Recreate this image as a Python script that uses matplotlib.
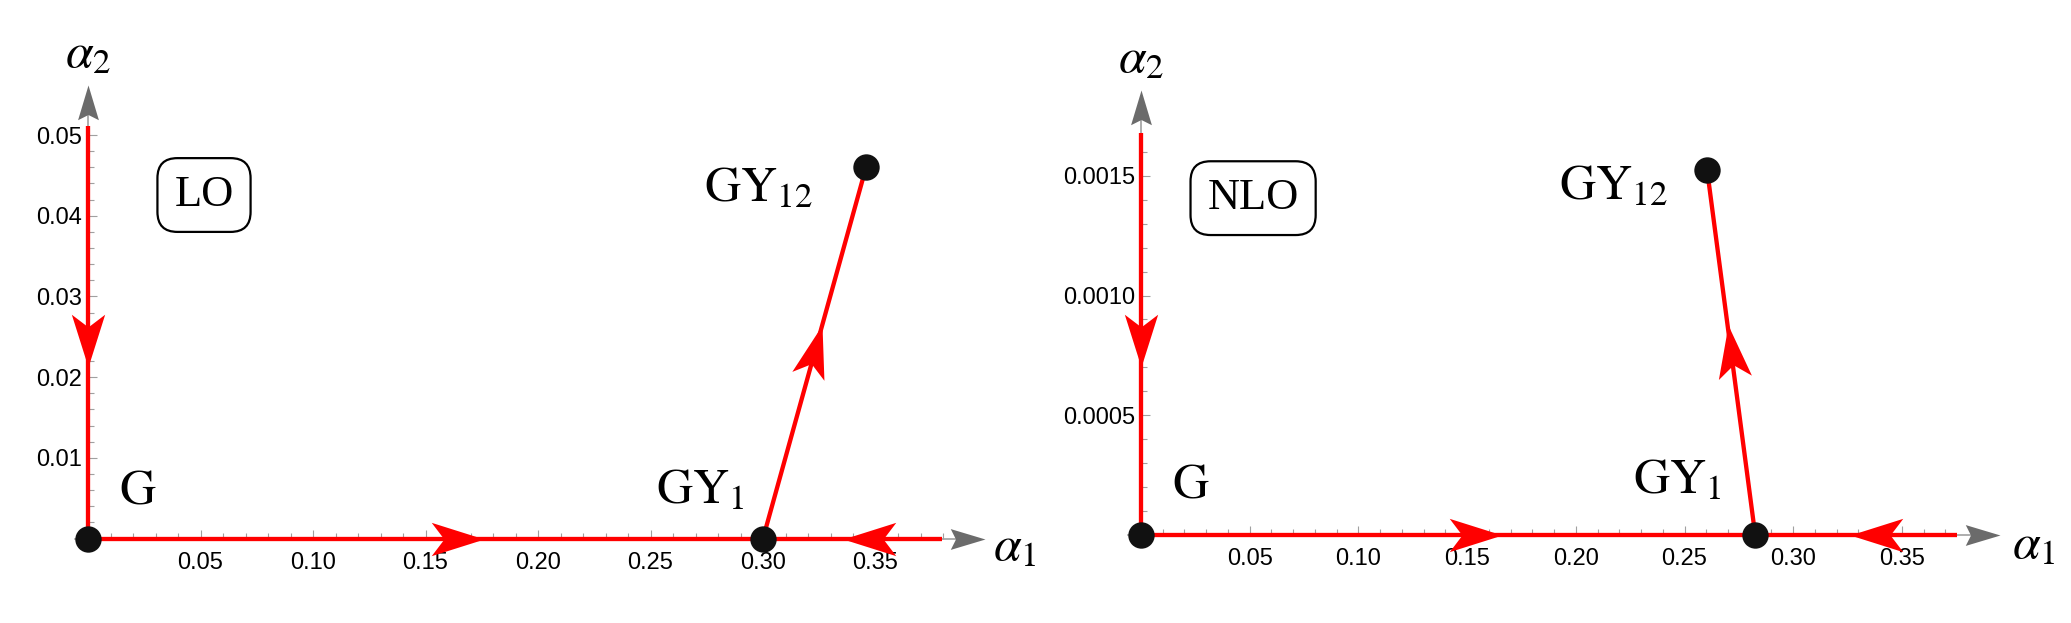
import numpy as np
import matplotlib
matplotlib.use('Agg')
import matplotlib.pyplot as plt
from matplotlib.path import Path

plt.rcParams['mathtext.fontset'] = 'stix'
plt.rcParams['font.family'] = ['Liberation Sans', 'DejaVu Sans']

# ---- LO panel ----
lo_G = (0.0, 0.0)
lo_GY1 = (0.300, 0.0)
lo_GY12 = (0.3458, 0.0460)
lo_a2_top = 0.0511          # red flow line on the alpha2 axis starts here
lo_a1_end = 0.3796          # red flow line on the alpha1 axis ends here
lo_arrow_down = 0.02125     # tip of the arrow on the alpha2 axis
lo_arrow_right = 0.176      # tip of the arrow G -> GY1
lo_arrow_left = 0.3357      # tip of the arrow end -> GY1
lo_arrow_gy = (0.3263, 0.0264)
lo_axis_tip = (0.3987, 0.0562)
lo_xticks = [0.05, 0.10, 0.15, 0.20, 0.25, 0.30, 0.35]
lo_yticks = [0.01, 0.02, 0.03, 0.04, 0.05]

# ---- NLO panel ----
nlo_G = (0.0, 0.0)
nlo_GY1 = (0.2825, 0.0)
nlo_GY12 = (0.2604, 0.001525)
nlo_a2_top = 0.00168
nlo_a1_end = 0.3755
nlo_arrow_down = 0.000702
nlo_arrow_right = 0.166
nlo_arrow_left = 0.326
nlo_arrow_gy = (0.2698, 0.000877)
nlo_axis_tip = (0.3951, 0.00186)
nlo_xticks = [0.05, 0.10, 0.15, 0.20, 0.25, 0.30, 0.35]
nlo_yticks = [0.0005, 0.0010, 0.0015]

RED = '#ff0000'
GRAY = '#a0a0a0'
DARKGRAY = '#6b6b6b'


def head(ax, tip, frm, color=RED, L=38, W=24, notch=0.76, z=4):
    # notched arrow head, tip at data point, pointing along frm -> tip
    p0 = ax.transData.transform(frm)
    p1 = ax.transData.transform(tip)
    ang = np.arctan2(p1[1] - p0[1], p1[0] - p0[0])
    base = np.array([[0, 0], [-L, W / 2], [-notch * L, 0], [-L, -W / 2], [0, 0]])
    c, s = np.cos(ang), np.sin(ang)
    verts = base @ np.array([[c, s], [-s, c]])
    path = Path(verts, [Path.MOVETO, Path.LINETO, Path.LINETO, Path.LINETO, Path.CLOSEPOLY])
    ms = 2 * np.abs(verts).max()
    ax.plot(tip[0], tip[1], marker=path, ms=ms, color=color, mew=0,
            clip_on=False, zorder=z)


def panel(ax, G, GY1, GY12, a2_top, a1_end, a_down, a_right, a_left, a_gy,
          axis_tip, xticks, yticks, yfmt, xminor, yminor, name, box_pos, offs):
    for sp in ['top', 'right']:
        ax.spines[sp].set_visible(False)
    ax.spines['left'].set_position(('data', 0))
    ax.spines['bottom'].set_position(('data', 0))
    ax.spines['left'].set_bounds(-0.02 * axis_tip[1], axis_tip[1] * 0.97)
    ax.spines['bottom'].set_bounds(-0.006, axis_tip[0] * 0.97)
    for sp in ['left', 'bottom']:
        ax.spines[sp].set_color(GRAY)
        ax.spines[sp].set_linewidth(1.2)
        ax.spines[sp].set_zorder(1)

    ax.set_xticks(xticks)
    ax.set_xticklabels(['%.2f' % t for t in xticks])
    ax.set_yticks(yticks)
    ax.set_yticklabels([yfmt % t for t in yticks])
    ax.set_xticks(xminor, minor=True)
    ax.set_yticks(yminor, minor=True)
    ax.tick_params(which='major', direction='in', length=6.5, width=0.8,
                   color=GRAY, labelsize=17)
    ax.tick_params(which='minor', direction='in', length=4, width=0.8, color=GRAY)
    ax.tick_params(axis='x', pad=10)
    ax.tick_params(axis='y', pad=4.3)

    # gray axis arrow heads
    head(ax, (axis_tip[0], 0), (0, 0), color=DARKGRAY, L=25, W=15, notch=0.85, z=2)
    head(ax, (0, axis_tip[1]), (0, 0), color=DARKGRAY, L=25, W=15, notch=0.85, z=2)

    # flow lines
    kw = dict(color=RED, lw=3.1, solid_capstyle='butt', zorder=3, clip_on=False)
    ax.plot([G[0], G[0]], [a2_top, G[1]], **kw)
    ax.plot([G[0], a1_end], [G[1], G[1]], **kw)
    ax.plot([GY1[0], GY12[0]], [GY1[1], GY12[1]], **kw)

    head(ax, (0, a_down), (0, a2_top))
    head(ax, (a_right, 0), (0, 0))
    head(ax, (a_left, 0), (a1_end, 0))
    head(ax, a_gy, GY1)

    # fixed points
    xs = [G[0], GY1[0], GY12[0]]
    ys = [G[1], GY1[1], GY12[1]]
    ax.plot(xs, ys, 'o', color='#111111', ms=19, mew=0, zorder=5, clip_on=False)

    tk = dict(textcoords='offset pixels', fontsize=36, va='baseline')
    ax.annotate(r'$\mathrm{G}$', xy=G, xytext=offs['G'], ha='left', **tk)
    ax.annotate(r'$\mathrm{GY}_{1}$', xy=GY1, xytext=offs['GY1'], ha='right', **tk)
    ax.annotate(r'$\mathrm{GY}_{12}$', xy=GY12, xytext=offs['GY12'], ha='right', **tk)
    ax.annotate(r'$\alpha_2$', xy=(0, axis_tip[1]), xytext=(0, 18), ha='center', **tk)
    ax.annotate(r'$\alpha_1$', xy=(axis_tip[0], 0), xytext=offs['a1'], ha='left', **tk)

    ax.text(box_pos[0], box_pos[1], name, transform=ax.transAxes, ha='center',
            va='center', fontsize=32, family=['Liberation Serif'],
            bbox=dict(boxstyle='round,pad=0.38,rounding_size=0.45', fc='white',
                      ec='black', lw=1.6))


W_PX, H_PX = 2071, 623
fig = plt.figure(figsize=(W_PX / 100, H_PX / 100), dpi=100)


def make_axes(left, right, top, bottom, x0, xs, y0, ys):
    # pixel box of the axes plus pixel position of the origin and px/unit scales
    ax = fig.add_axes([left / W_PX, (H_PX - bottom) / H_PX,
                       (right - left) / W_PX, (bottom - top) / H_PX])
    ax.set_xlim((left - x0) / xs, (right - x0) / xs)
    ax.set_ylim((y0 - bottom) / ys, (y0 - top) / ys)
    return ax


ax1 = make_axes(20, 1040, 30, 600, 88, 2250, 538.5, 8070)
ax2 = make_axes(1060, 2071, 30, 600, 1141, 2174, 534.5, 239000)

panel(ax1, lo_G, lo_GY1, lo_GY12, lo_a2_top, lo_a1_end, lo_arrow_down,
      lo_arrow_right, lo_arrow_left, lo_arrow_gy, lo_axis_tip, lo_xticks,
      lo_yticks, '%.2f', np.arange(0.01, 0.381, 0.01), np.arange(0.002, 0.0501, 0.002),
      'LO', (0.1804, 0.7105),
      {'G': (31, 34.5), 'GY1': (-18, 35.5), 'GY12': (-53, -34), 'a1': (8, -22)})

panel(ax2, nlo_G, nlo_GY1, nlo_GY12, nlo_a2_top, nlo_a1_end, nlo_arrow_down,
      nlo_arrow_right, nlo_arrow_left, nlo_arrow_gy, nlo_axis_tip, nlo_xticks,
      nlo_yticks, '%.4f', np.arange(0.01, 0.371, 0.01), np.arange(0.0001, 0.00161, 0.0001),
      'NLO', (0.191, 0.705),
      {'G': (31, 37.5), 'GY1': (-33, 41.5), 'GY12': (-39, -29), 'a1': (12, -24)})

fig.savefig('out.png', dpi=100)
